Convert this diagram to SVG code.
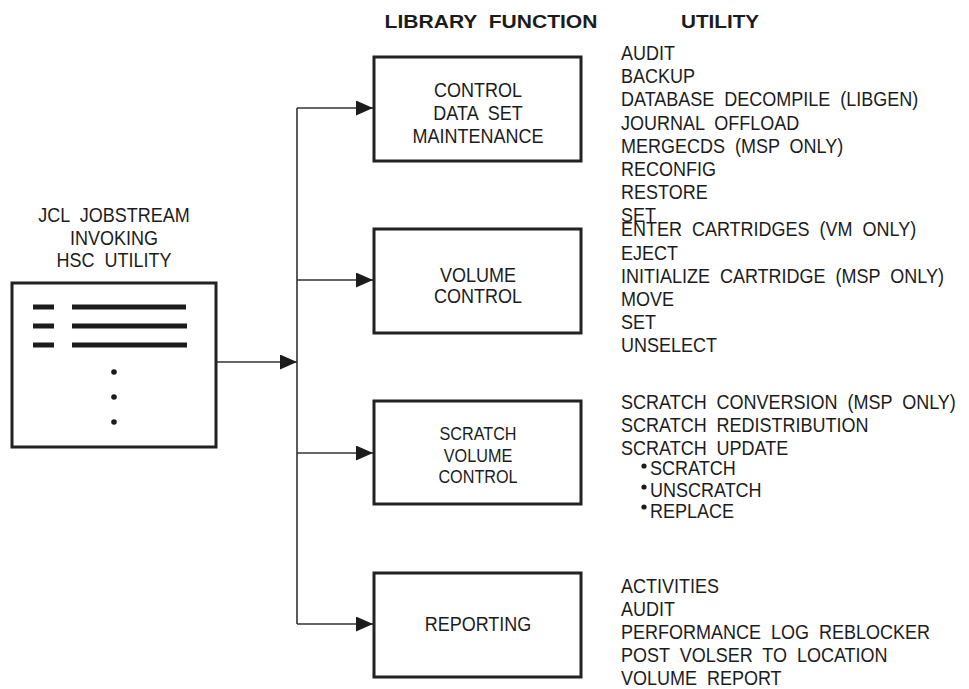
<svg xmlns="http://www.w3.org/2000/svg" width="969" height="689" viewBox="0 0 969 689">
<style>
  text { font-family: "Liberation Sans", Arial, sans-serif; fill: #1c1c1c; white-space: pre; }
  .t { font-size: 20px; }
  .s { font-size: 18px; }
  .h { font-size: 18px; font-weight: bold; }
  .mid { text-anchor: middle; }
  .box { fill: #fff; stroke: #222; stroke-width: 3; }
  .conn { fill: none; stroke: #333; stroke-width: 1.6; }
  .bar { stroke: #1c1c1c; stroke-width: 5; }
</style>
<defs>
  <marker id="arr" markerUnits="userSpaceOnUse" markerWidth="18" markerHeight="16" refX="17" refY="7.5" orient="auto">
    <path d="M0,0 L17,7.5 L0,15 z" fill="#1c1c1c"/>
  </marker>
</defs>
<rect width="969" height="689" fill="#fff"/>

<g id="headers">
  <g transform="translate(491,0) scale(1.17,1)"><text class="h mid" x="0" y="28" xml:space="preserve">LIBRARY  FUNCTION</text></g>
  <g transform="translate(720,0) scale(1.15,1)"><text class="h mid" x="0" y="28">UTILITY</text></g>
</g>

<g id="connectors">
  <line class="conn" x1="216" y1="362" x2="297" y2="362" marker-end="url(#arr)"/>
  <line class="conn" x1="297" y1="108" x2="297" y2="624"/>
  <line class="conn" x1="297" y1="108" x2="373" y2="108" marker-end="url(#arr)"/>
  <line class="conn" x1="297" y1="280" x2="373" y2="280" marker-end="url(#arr)"/>
  <line class="conn" x1="297" y1="453" x2="373" y2="453" marker-end="url(#arr)"/>
  <line class="conn" x1="297" y1="624" x2="373" y2="624" marker-end="url(#arr)"/>
</g>

<g id="jcl">
  <g transform="translate(114,0) scale(0.9,1)">
    <text class="t mid" x="0" y="222" xml:space="preserve">JCL  JOBSTREAM</text>
    <text class="t mid" x="0" y="245">INVOKING</text>
    <text class="t mid" x="0" y="267" xml:space="preserve">HSC  UTILITY</text>
  </g>
  <rect class="box" x="12" y="283" width="204" height="164"/>
  <line class="bar" x1="33" y1="307" x2="54" y2="307"/>
  <line class="bar" x1="72" y1="307" x2="186" y2="307"/>
  <line class="bar" x1="33" y1="326" x2="54" y2="326"/>
  <line class="bar" x1="72" y1="326" x2="187" y2="326"/>
  <line class="bar" x1="33" y1="345" x2="54" y2="345"/>
  <line class="bar" x1="72" y1="345" x2="187" y2="345"/>
  <circle cx="114" cy="372" r="2.8" fill="#1c1c1c"/>
  <circle cx="114" cy="397" r="2.8" fill="#1c1c1c"/>
  <circle cx="114" cy="422" r="2.8" fill="#1c1c1c"/>
</g>

<g id="control">
  <rect class="box" x="374" y="57" width="207" height="104"/>
  <g transform="translate(478,0) scale(0.9,1)">
    <text class="t mid" x="0" y="97">CONTROL</text>
    <text class="t mid" x="0" y="120" xml:space="preserve">DATA  SET</text>
    <text class="t mid" x="0" y="143">MAINTENANCE</text>
  </g>
</g>

<g id="volume">
  <rect class="box" x="374" y="229" width="207" height="104"/>
  <g transform="translate(478,0) scale(0.9,1)">
    <text class="t mid" x="0" y="282">VOLUME</text>
    <text class="t mid" x="0" y="303">CONTROL</text>
  </g>
</g>

<g id="scratch">
  <rect class="box" x="374" y="401" width="207" height="103"/>
  <g transform="translate(478,0) scale(0.9,1)">
    <text class="s mid" x="0" y="440">SCRATCH</text>
    <text class="s mid" x="0" y="462">VOLUME</text>
    <text class="s mid" x="0" y="483">CONTROL</text>
  </g>
</g>

<g id="reporting">
  <rect class="box" x="374" y="573" width="207" height="104"/>
  <g transform="translate(478,0) scale(0.9,1)">
    <text class="t mid" x="0" y="631">REPORTING</text>
  </g>
</g>

<g id="util-control" transform="translate(621,0) scale(0.9,1)">
  <text class="t" x="0" y="60">AUDIT</text>
  <text class="t" x="0" y="83.2">BACKUP</text>
  <text class="t" x="0" y="106.4" xml:space="preserve">DATABASE  DECOMPILE  (LIBGEN)</text>
  <text class="t" x="0" y="129.6" xml:space="preserve">JOURNAL  OFFLOAD</text>
  <text class="t" x="0" y="152.8" xml:space="preserve">MERGECDS  (MSP  ONLY)</text>
  <text class="t" x="0" y="176">RECONFIG</text>
  <text class="t" x="0" y="199.2">RESTORE</text>
  <text class="t" x="0" y="222.4">SET</text>
</g>

<g id="util-volume" transform="translate(621,0) scale(0.9,1)">
  <text class="t" x="0" y="236.5" xml:space="preserve">ENTER  CARTRIDGES  (VM  ONLY)</text>
  <text class="t" x="0" y="259.7">EJECT</text>
  <text class="t" x="0" y="282.9" xml:space="preserve">INITIALIZE  CARTRIDGE  (MSP  ONLY)</text>
  <text class="t" x="0" y="306.1">MOVE</text>
  <text class="t" x="0" y="329.3">SET</text>
  <text class="t" x="0" y="352.5">UNSELECT</text>
</g>

<g id="util-scratch">
  <g transform="translate(621,0) scale(0.9,1)">
    <text class="t" x="0" y="409" xml:space="preserve">SCRATCH  CONVERSION  (MSP  ONLY)</text>
    <text class="t" x="0" y="432" xml:space="preserve">SCRATCH  REDISTRIBUTION</text>
    <text class="t" x="0" y="455" xml:space="preserve">SCRATCH  UPDATE</text>
  </g>
  <circle cx="644" cy="466" r="2.6" fill="#1c1c1c"/>
  <circle cx="644" cy="487" r="2.6" fill="#1c1c1c"/>
  <circle cx="644" cy="507" r="2.6" fill="#1c1c1c"/>
  <g transform="translate(650,0) scale(0.9,1)">
    <text class="t" x="0" y="475">SCRATCH</text>
    <text class="t" x="0" y="497">UNSCRATCH</text>
    <text class="t" x="0" y="518">REPLACE</text>
  </g>
</g>

<g id="util-reporting" transform="translate(621,0) scale(0.9,1)">
  <text class="t" x="0" y="593">ACTIVITIES</text>
  <text class="t" x="0" y="616">AUDIT</text>
  <text class="t" x="0" y="639" xml:space="preserve">PERFORMANCE  LOG  REBLOCKER</text>
  <text class="t" x="0" y="662" xml:space="preserve">POST  VOLSER  TO  LOCATION</text>
  <text class="t" x="0" y="685" xml:space="preserve">VOLUME  REPORT</text>
</g>
</svg>
